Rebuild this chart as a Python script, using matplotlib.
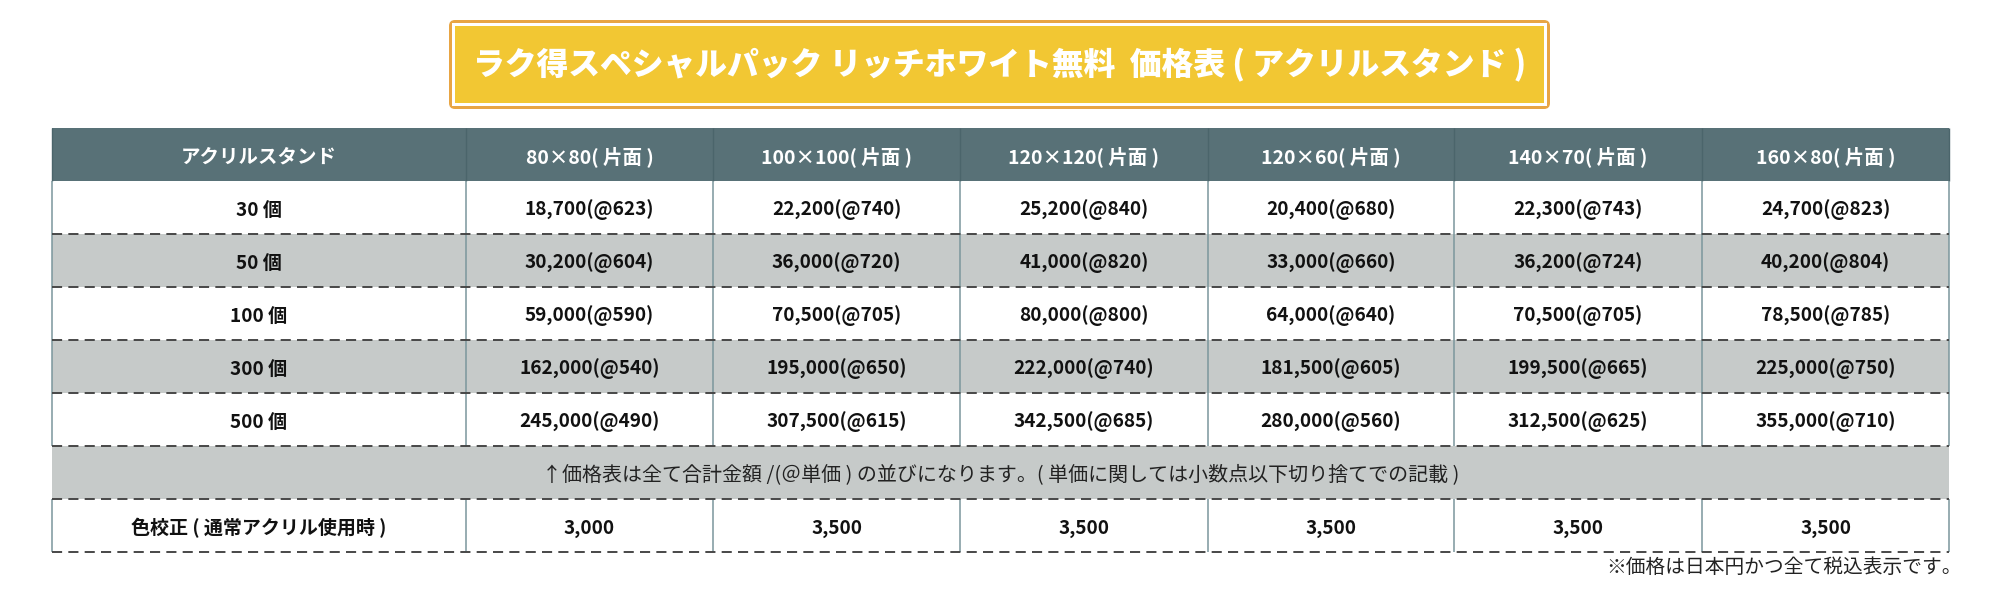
import matplotlib
matplotlib.use("Agg")
import matplotlib.pyplot as plt
from matplotlib.patches import Rectangle, FancyBboxPatch

plt.rcParams['font.family'] = ['Noto Sans CJK JP', 'DejaVu Sans']

title = "ラク得スペシャルパック リッチホワイト無料  価格表 ( アクリルスタンド )"
corner_label = "アクリルスタンド"
sizes = ["80×80( 片面 )", "100×100( 片面 )", "120×120( 片面 )",
         "120×60( 片面 )", "140×70( 片面 )", "160×80( 片面 )"]
quantities = [30, 50, 100, 300, 500]

totals_30 = [18700, 22200, 25200, 20400, 22300, 24700]
totals_50 = [30200, 36000, 41000, 33000, 36200, 40200]
totals_100 = [59000, 70500, 80000, 64000, 70500, 78500]
totals_300 = [162000, 195000, 222000, 181500, 199500, 225000]
totals_500 = [245000, 307500, 342500, 280000, 312500, 355000]

unit_30 = [623, 740, 840, 680, 743, 823]
unit_50 = [604, 720, 820, 660, 724, 804]
unit_100 = [590, 705, 800, 640, 705, 785]
unit_300 = [540, 650, 740, 605, 665, 750]
unit_500 = [490, 615, 685, 560, 625, 710]

note_text = "↑価格表は全て合計金額 /(＠単価 ) の並びになります。( 単価に関しては小数点以下切り捨てでの記載 )"
color_label = "色校正 ( 通常アクリル使用時 )"
color_fee = [3000, 3500, 3500, 3500, 3500, 3500]
footnote = "※価格は日本円かつ全て税込表示です。"

totals = [totals_30, totals_50, totals_100, totals_300, totals_500]
units = [unit_30, unit_50, unit_100, unit_300, unit_500]

# layout (pixel units)
col_edges = [52, 466, 713, 960, 1208, 1454, 1702, 1949]
head_top, head_bot = 128, 181
row_h = 53.0
txt_dy = 2.5   # CJK glyph box sits a bit high with va='center'

header_col = '#587177'
grey = '#c6cac9'
dash_col = '#474747'
vline_col = '#7b969c'

fig = plt.figure(figsize=(20, 6.15), dpi=100)
ax = fig.add_axes([0, 0, 1, 1])
ax.set_xlim(0, 2000)
ax.set_ylim(615, 0)
ax.axis('off')

# title box
ax.add_patch(FancyBboxPatch((449, 20), 1101, 89, boxstyle="round,pad=0,rounding_size=6",
                            fc='#e8a544', ec='none'))
ax.add_patch(Rectangle((452, 23), 1095, 83, fc='white', ec='none'))
ax.add_patch(Rectangle((455, 26), 1089, 77, fc='#f2c733', ec='none'))
ax.text(1000, 65, title, color='white', fontsize=22.9, fontweight='heavy',
        ha='center', va='center')

left, right = col_edges[0], col_edges[-1]

# header
ax.add_patch(Rectangle((left, head_top), right - left, head_bot - head_top, fc=header_col, ec='none'))
hy = (head_top + head_bot) / 2 + txt_dy
ax.text((col_edges[0] + col_edges[1]) / 2, hy, corner_label, color='white',
        fontsize=14, fontweight='bold', ha='center', va='center')
for i, s in enumerate(sizes):
    ax.text((col_edges[i + 1] + col_edges[i + 2]) / 2, hy, s, color='white',
            fontsize=14, fontweight='bold', ha='center', va='center')
ax.vlines(col_edges, head_top, head_bot, colors='#4b656b', lw=1.0)

# body rows
rows = []
for q, t, u in zip(quantities, totals, units):
    rows.append((f"{q} 個", [f"{a:,}(@{b})" for a, b in zip(t, u)]))

n_body = len(rows) + 2
fills = ['white' if k % 2 == 0 else grey for k in range(n_body)]
y0 = head_bot
for k in range(n_body):
    top = y0 + k * row_h
    ax.add_patch(Rectangle((left, top), right - left, row_h, fc=fills[k], ec='none'))

def draw_row(k, label, cells):
    top = y0 + k * row_h
    cy = top + row_h / 2 + txt_dy
    ax.text((col_edges[0] + col_edges[1]) / 2, cy, label, color='#111111',
            fontsize=13.7, fontweight='bold', ha='center', va='center')
    for i, c in enumerate(cells):
        ax.text((col_edges[i + 1] + col_edges[i + 2]) / 2, cy, c, color='#111111',
                fontsize=13.7, fontweight='bold', ha='center', va='center')
    ax.vlines(col_edges, top, top + row_h, colors=vline_col, lw=1.1)

for k, (label, cells) in enumerate(rows):
    draw_row(k, label, cells)

# note row spanning full width
k_note = len(rows)
ax.text((left + right) / 2, y0 + k_note * row_h + row_h / 2 + txt_dy, note_text,
        color='#222222', fontsize=14.4, ha='center', va='center')

# colour calibration row
draw_row(k_note + 1, color_label, [f"{v:,}" for v in color_fee])

# dashed separators
for k in range(n_body):
    ax.hlines(y0 + (k + 1) * row_h, left, right, colors=dash_col, lw=1.4,
              linestyles=(0, (5.2, 3.2)))

ax.text(1962, 567, footnote, color='#222222', fontsize=14.2, ha='right', va='center')

fig.savefig('out.png', dpi=100)
